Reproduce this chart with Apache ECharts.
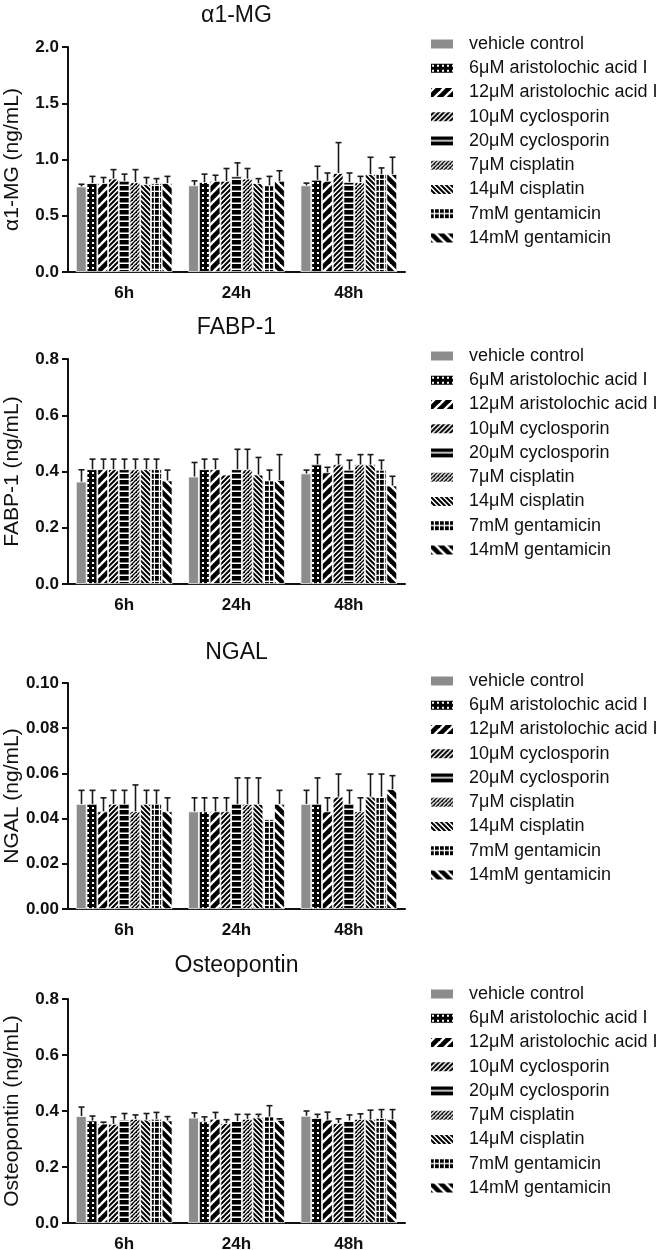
<!DOCTYPE html>
<html>
<head>
<meta charset="utf-8">
<script src="https://cdn.jsdelivr.net/npm/echarts@6/dist/echarts.min.js"></script>
<style>html,body{margin:0;padding:0;background:#fff;}#chart{width:663px;height:1250px;}</style>
</head>
<body>
<div id="chart"></div>
<script>
// ---------------- data ----------------
const categories = ['6h', '24h', '48h'];
const seriesNames = ['vehicle control', '6\u03bcM aristolochic acid I', '12\u03bcM aristolochic acid I',
  '10\u03bcM cyclosporin', '20\u03bcM cyclosporin', '7\u03bcM cisplatin', '14\u03bcM cisplatin',
  '7mM gentamicin', '14mM gentamicin'];
const panelTitles = ['\u03b11-MG', 'FABP-1', 'NGAL', 'Osteopontin'];
const axisNames = ['\u03b11-MG (ng/mL)', 'FABP-1 (ng/mL)', 'NGAL (ng/mL)', 'Osteopontin (ng/mL)'];
const axisMax = [2.0, 0.8, 0.10, 0.8];
const axisStep = [0.5, 0.2, 0.02, 0.2];
const axisDecimals = [1, 1, 2, 1];

// mean per series: [6h, 24h, 48h]
const a1mgMean = [[0.76,0.77,0.77],[0.79,0.80,0.82],[0.79,0.81,0.81],[0.83,0.81,0.88],[0.81,0.85,0.80],
  [0.80,0.83,0.80],[0.78,0.79,0.87],[0.79,0.77,0.87],[0.79,0.81,0.87]];
const a1mgSD = [[0.02,0.04,0.02],[0.06,0.07,0.12],[0.05,0.05,0.07],[0.08,0.11,0.27],[0.06,0.12,0.08],
  [0.11,0.09,0.05],[0.06,0.04,0.15],[0.04,0.08,0.055],[0.06,0.09,0.15]];
const fabpMean = [[0.364,0.382,0.393],[0.408,0.408,0.425],[0.408,0.408,0.397],[0.408,0.389,0.425],[0.408,0.408,0.406],
  [0.408,0.408,0.425],[0.408,0.389,0.425],[0.408,0.368,0.406],[0.368,0.370,0.350]];
const fabpSD = [[0.042,0.050,0.012],[0.036,0.036,0.035],[0.036,0.036,0.018],[0.036,0.0,0.035],[0.036,0.071,0.034],
  [0.036,0.071,0.035],[0.036,0.061,0.035],[0.036,0.037,0.034],[0.037,0.090,0.033]];
const ngalMean = [[0.0465,0.0432,0.0465],[0.0465,0.0432,0.0465],[0.0432,0.0432,0.0432],[0.0465,0.0432,0.0497],[0.0465,0.0465,0.0465],
  [0.0432,0.0465,0.0432],[0.0465,0.0465,0.0497],[0.0465,0.0398,0.0497],[0.0432,0.0465,0.0530]];
const ngalSD = [[0.006,0.006,0.006],[0.006,0.006,0.0115],[0.006,0.006,0.006],[0.006,0.006,0.010],[0.006,0.0115,0.006],
  [0.0117,0.0115,0.006],[0.006,0.0115,0.010],[0.006,0.0,0.010],[0.006,0.006,0.006]];
const optnMean = [[0.382,0.376,0.383],[0.366,0.363,0.375],[0.355,0.372,0.369],[0.354,0.357,0.357],[0.369,0.364,0.366],
  [0.372,0.372,0.372],[0.369,0.377,0.370],[0.372,0.380,0.375],[0.366,0.368,0.370]];
const optnSD = [[0.032,0.017,0.017],[0.016,0.016,0.013],[0.005,0.023,0.027],[0.025,0.012,0.015],[0.022,0.024,0.020],
  [0.014,0.016,0.018],[0.022,0.011,0.033],[0.023,0.039,0.030],[0.014,0.004,0.035]];

const panelMeans = [a1mgMean, fabpMean, ngalMean, optnMean];
const panelSDs = [a1mgSD, fabpSD, ngalSD, optnSD];

// ---------------- styles ----------------
function tile(w, h, draw) {
  const c = document.createElement('canvas');
  c.width = w; c.height = h;
  const ctx = c.getContext('2d');
  draw(ctx, w, h);
  return { image: c, repeat: 'repeat' };
}
function diag(ctx, s, dir, lw, color) {
  ctx.strokeStyle = color; ctx.lineWidth = lw; ctx.lineCap = 'square';
  for (let k = -1; k <= 1; k++) {
    ctx.beginPath();
    if (dir > 0) { ctx.moveTo(k * s, s); ctx.lineTo(k * s + s, 0); }
    else { ctx.moveTo(k * s, 0); ctx.lineTo(k * s + s, s); }
    ctx.stroke();
  }
}
const fills = [
  '#8c8c8c',
  tile(5, 5, (c) => { c.fillStyle = '#000'; c.fillRect(0, 0, 5, 5); c.fillStyle = '#fff'; c.fillRect(2, 2, 2, 2); }),
  tile(10, 10, (c, w) => { c.fillStyle = '#fff'; c.fillRect(0, 0, w, w); diag(c, w, 1, 4.6, '#000'); }),
  tile(5, 5, (c, w) => { c.fillStyle = '#fff'; c.fillRect(0, 0, w, w); diag(c, w, 1, 2.0, '#000'); }),
  tile(5, 6, (c) => { c.fillStyle = '#000'; c.fillRect(0, 0, 5, 6); c.fillStyle = '#fff'; c.fillRect(0, 4.5, 5, 1.5); }),
  tile(4, 4, (c, w) => { c.fillStyle = '#fff'; c.fillRect(0, 0, w, w); diag(c, w, 1, 1.4, '#000'); c.fillStyle = '#000'; c.fillRect(0, 0, 1, 1); }),
  tile(5, 5, (c, w) => { c.fillStyle = '#fff'; c.fillRect(0, 0, w, w); diag(c, w, -1, 2.0, '#000'); }),
  tile(5, 6, (c) => { c.fillStyle = '#000'; c.fillRect(0, 0, 5, 6); c.fillStyle = '#fff'; c.fillRect(0, 4.7, 5, 1.3); c.fillRect(3.8, 0, 1.2, 6); }),
  tile(10, 10, (c, w) => { c.fillStyle = '#fff'; c.fillRect(0, 0, w, w); diag(c, w, -1, 4.6, '#000'); })
];

const CAT_GAP = 0.14, BAR_GAP = 0.0, NS = 9;
const gridTops = [47, 359, 683, 999];
const gridHeights = [225, 225, 226, 224];
const titleTops = [4, 316, 641, 954];
const legendTops = [35, 347, 672, 985];
const GRID_LEFT = 68, GRID_W = 337;
const FONT = 'Liberation Sans, Arial';

const option = {
  animation: false,
  backgroundColor: '#fff',
  title: [], grid: [], xAxis: [], yAxis: [], legend: [], series: []
};

for (let g = 0; g < 4; g++) {
  option.title.push({
    text: panelTitles[g], left: GRID_LEFT + GRID_W / 2, top: titleTops[g], textAlign: 'center', padding: 0,
    textStyle: { fontFamily: FONT, fontSize: 23, fontWeight: 'normal', color: '#111' }
  });
  option.grid.push({ left: GRID_LEFT, top: gridTops[g], width: GRID_W, height: gridHeights[g],
    containLabel: false, outerBoundsMode: 'none' });
  option.xAxis.push({
    type: 'category', gridIndex: g, data: categories,
    axisLine: { lineStyle: { color: '#111', width: 2 } },
    axisTick: { alignWithLabel: true, length: 5, lineStyle: { color: '#111', width: 2 } },
    axisLabel: { margin: 13, color: '#111', fontSize: 17, fontWeight: 'bold', fontFamily: FONT }
  });
  const dec = axisDecimals[g];
  option.yAxis.push({
    type: 'value', gridIndex: g, min: 0, max: axisMax[g], interval: axisStep[g],
    name: axisNames[g], nameLocation: 'middle', nameGap: 45, nameMoveOverlap: false,
    nameTextStyle: { fontSize: 21, color: '#111', fontFamily: FONT },
    axisLine: { show: true, lineStyle: { color: '#111', width: 2 } },
    axisTick: { show: true, length: 6, lineStyle: { color: '#111', width: 2 } },
    splitLine: { show: false },
    axisLabel: { margin: 9, color: '#111', fontSize: 17, fontWeight: 'bold', fontFamily: FONT,
      formatter: (v) => v.toFixed(dec) }
  });
  option.legend.push({
    orient: 'vertical', left: 429, top: legendTops[g], data: seriesNames, padding: 0,
    itemWidth: 24, itemHeight: 11, itemGap: 6.25, icon: 'rect', selectedMode: false,
    textStyle: { fontSize: 18, color: '#111', fontFamily: FONT, padding: [0, 0, 0, 10], lineHeight: 18 }
  });
  const means = panelMeans[g], sds = panelSDs[g];
  for (let s = 0; s < NS; s++) {
    option.series.push({
      type: 'bar', name: seriesNames[s], xAxisIndex: g, yAxisIndex: g,
      data: means[s], barGap: (BAR_GAP * 100) + '%', barCategoryGap: (CAT_GAP * 100) + '%',
      itemStyle: { color: fills[s], borderColor: '#fff', borderWidth: 0.8 },
      emphasis: { disabled: true }
    });
  }
  const errData = [];
  for (let s = 0; s < NS; s++) {
    for (let c = 0; c < categories.length; c++) {
      errData.push([c, s, means[s][c] + sds[s][c], means[s][c]]);
    }
  }
  option.series.push({
    type: 'custom', xAxisIndex: g, yAxisIndex: g, z: 5, silent: true,
    encode: { x: 0, y: 2 },
    data: errData,
    renderItem: function (params, api) {
      const c = api.value(0), s = api.value(1), top = api.value(2), mean = api.value(3);
      if (top - mean <= 0) return null;
      const p0 = api.coord([c, mean]);
      const p1 = api.coord([c, top]);
      const band = api.size([1, 0])[0];
      const usable = band * (1 - CAT_GAP);
      const w = usable / (NS + (NS - 1) * BAR_GAP);
      const cx = Math.round(p0[0] - usable / 2 + s * w * (1 + BAR_GAP) + w / 2) + 0.5;
      const st = { stroke: '#1a1a1a', lineWidth: 1.6 };
      return {
        type: 'group', children: [
          { type: 'line', shape: { x1: cx, y1: p0[1], x2: cx, y2: p1[1] }, style: st },
          { type: 'line', shape: { x1: cx - 3, y1: p1[1], x2: cx + 3, y2: p1[1] }, style: st }
        ]
      };
    }
  });
}

const chart = echarts.init(document.getElementById('chart'), null, { renderer: 'canvas' });
chart.setOption(option);
</script>
</body>
</html>
